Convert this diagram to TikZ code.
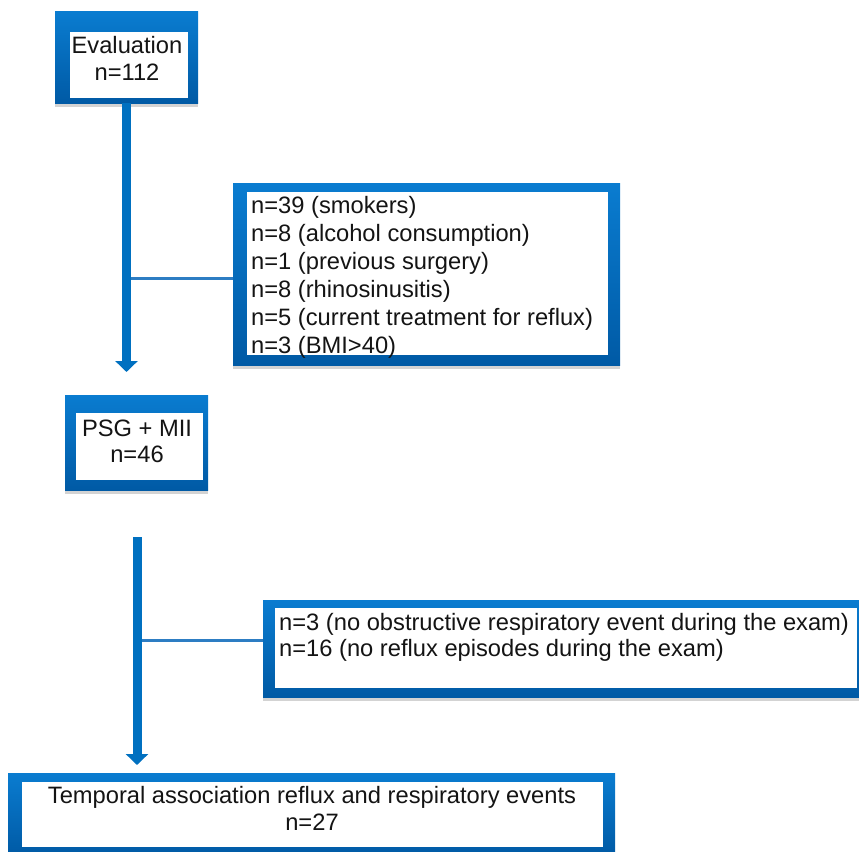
\documentclass[tikz,border=0pt]{standalone}
\usepackage{fontspec}
\setmainfont{Liberation Sans}
\usetikzlibrary{arrows.meta,shadows}
\definecolor{fblue}{RGB}{0,112,192}
\definecolor{ftop}{RGB}{10,124,208}
\definecolor{fbot}{RGB}{0,90,165}
\definecolor{lblue}{RGB}{45,125,195}
\definecolor{txtc}{RGB}{20,20,20}
\tikzset{
  frame/.style={inner sep=0pt, shading=axis, top color=ftop, bottom color=fbot,
    drop shadow={shadow xshift=0pt, shadow yshift=-4pt, opacity=0.35, fill=gray}},
  inner/.style={fill=white},
  txt/.style={inner sep=0pt, text=txtc, font=\fontsize{23.7}{#1}\selectfont},
  mainline/.style={draw=fblue, line width=9pt, -{Triangle[width=22pt,length=11pt]}},
  branch/.style={draw=lblue, line width=3pt}
}
\begin{document}
\begin{tikzpicture}[x=1pt,y=-1pt]
\useasboundingbox (0,0) rectangle (859,851);
\clip (0,0) rectangle (859,851);
% connector points
\coordinate (tip1) at (126.5,372);
\coordinate (br1) at (126.5,278);
\coordinate (start2) at (137,537);
\coordinate (tip2) at (137,765);
\coordinate (br2) at (137,640);
% boxes
\node[frame, minimum width=143pt, minimum height=91pt] (eval) at (126.5,57.5) {};
\fill[inner] (70,32) rectangle (188,98);
\node[txt=27pt, align=center, anchor=north] (evaltxt) at (127,35.7) {Evaluation\\n=112};

\node[frame, minimum width=387pt, minimum height=182pt] (excl1) at (426.5,274) {};
\fill[inner] (247,192) rectangle (608,355);
\node[txt=28pt, align=left, anchor=north west] (excl1txt) at (251,195.8)
 {n=39 (smokers)\\n=8 (alcohol consumption)\\n=1 (previous surgery)\\n=8 (rhinosinusitis)\\n=5 (current treatment for reflux)\\n=3 (BMI>40)};

\node[frame, minimum width=143pt, minimum height=95pt] (psg) at (136.5,442.5) {};
\fill[inner] (76,413) rectangle (203,480);
\node[txt=26.5pt, align=center, anchor=north] (psgtxt) at (137,419.5) {PSG + MII\\n=46};

\node[frame, minimum width=607pt, minimum height=97pt] (excl2) at (566.5,648.5) {};
\fill[inner] (275,608) rectangle (857,688);
\node[txt=26.5pt, align=left, anchor=north west] (excl2txt) at (279,612.7)
 {n=3 (no obstructive respiratory event during the exam)\\n=16 (no reflux episodes during the exam)};

\node[frame, minimum width=607pt, minimum height=82pt] (temp) at (311.5,814) {};
\fill[inner] (22,782) rectangle (603,847);
\node[txt=27pt, align=center, anchor=north] (temptxt) at (312,785.7)
 {Temporal association reflux and respiratory events\\n=27};

% connectors
\draw[branch] (br1) -- (br1 -| excl1.west);
\draw[mainline] (eval.south) -- (tip1);
\draw[branch] (br2) -- (br2 -| excl2.west);
\draw[mainline] (start2) -- (tip2);
\end{tikzpicture}
\end{document}
